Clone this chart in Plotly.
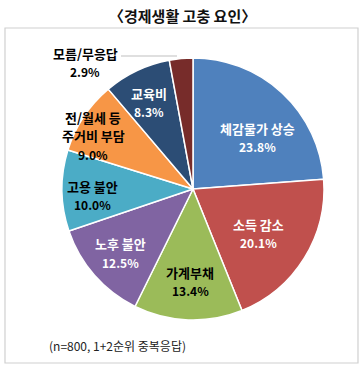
import plotly.graph_objects as go

labels = ["체감물가 상승", "소득 감소", "가계부채", "노후 불안", "고용 불안", "전/월세 등<br>주거비 부담", "교육비", "모름/무응답"]
values = [23.8, 20.1, 13.4, 12.5, 10.0, 9.0, 8.3, 2.9]
colors = ["#4F81BD", "#C0504D", "#9BBB59", "#8064A2", "#4BACC6", "#F79646", "#2C4D75", "#772C2A"]
text_colors = ["white", "white", "black", "white", "black", "black", "white", "black"]
title = "〈경제생활 고충 요인〉"
note = "(n=800, 1+2순위 중복응답)"

W, H = 364, 368
FONT = "Noto Sans CJK KR"

def px(x):
    return x / W

def py(y):
    return 1 - y / H

# pie geometry in pixels
cx, cy, r = 193, 189, 131

fig = go.Figure(go.Pie(
    labels=labels,
    values=values,
    sort=False,
    direction="clockwise",
    rotation=0,
    marker=dict(colors=colors, line=dict(color="white", width=1.5)),
    textinfo="none",
    hoverinfo="label+percent",
    showlegend=False,
    domain=dict(x=[px(cx - r), px(cx + r)], y=[py(cy + r), py(cy - r)]),
))

# label anchor: center x and first-line y (pixels)
label_pos = [(257, 128), (258, 224), (190, 272), (120, 244), (92, 186), (93, 117), (149, 93), (85, 53)]
LINE = 18.5

annotations = []
for lab, val, tc, (x, y) in zip(labels, values, text_colors, label_pos):
    lines = lab.split("<br>") + [f"{val:.1f}%"]
    for i, t in enumerate(lines):
        annotations.append(dict(
            x=px(x), y=py(y + i * LINE), xref="paper", yref="paper",
            xanchor="center", yanchor="middle",
            text=f"<b>{t}</b>",
            showarrow=False,
            font=dict(family=FONT, size=13 if i < len(lines) - 1 else 12, color=tc),
        ))

annotations.append(dict(
    x=px(182), y=py(16), xref="paper", yref="paper",
    xanchor="center", yanchor="middle",
    text=f"<b>{title}</b>", showarrow=False,
    font=dict(family=FONT, size=15, color="#111111"),
))
annotations.append(dict(
    x=px(47), y=py(345), xref="paper", yref="paper", xanchor="left", yanchor="middle",
    text=note, showarrow=False,
    font=dict(family=FONT, size=12, color="#222222"),
))

fig.update_layout(
    width=W, height=H,
    margin=dict(l=0, r=0, t=0, b=0),
    paper_bgcolor="white",
    annotations=annotations,
    shapes=[
        dict(type="rect", xref="paper", yref="paper",
             x0=px(5), x1=px(358), y0=py(363), y1=py(28),
             line=dict(color="#D0D0D0", width=1.2), layer="below"),
        dict(type="line", xref="paper", yref="paper",
             x0=px(121), x1=px(177), y0=py(56), y1=py(56),
             line=dict(color="#BFBFBF", width=1)),
    ],
)

fig.write_html("out.html")
